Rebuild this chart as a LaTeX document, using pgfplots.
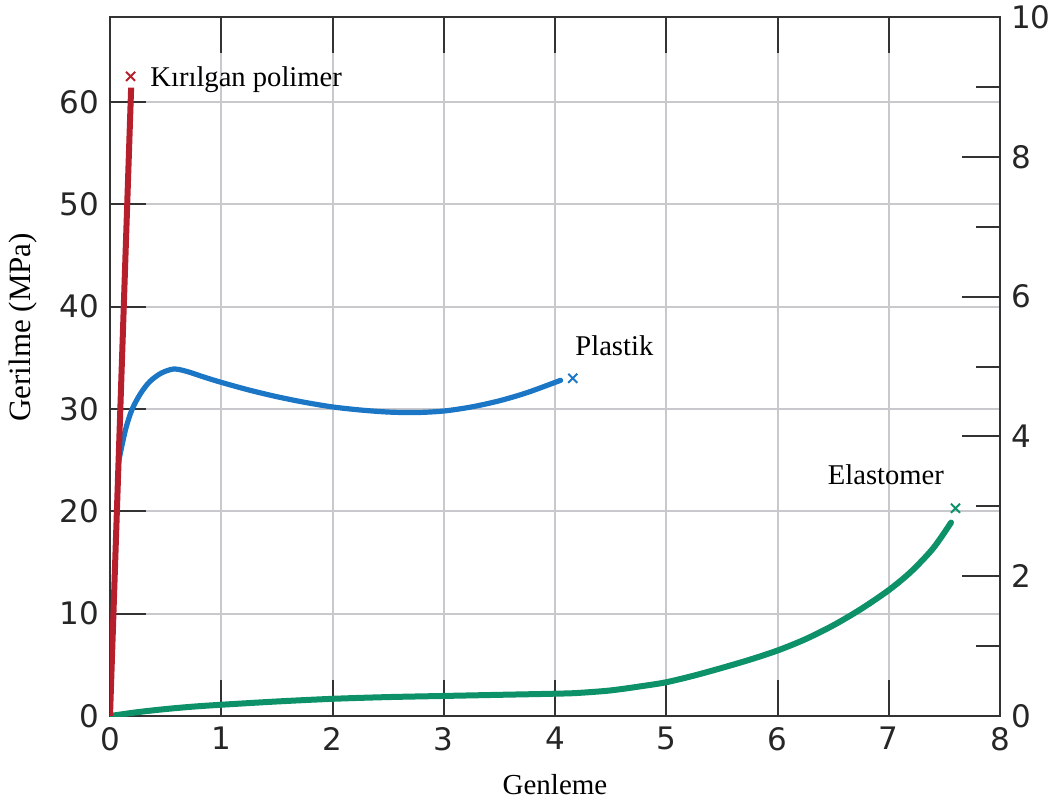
\documentclass[border=0pt]{standalone}
\usepackage{fontspec}
\setmainfont{Liberation Serif}
\newfontfamily\dejavu{DejaVu Sans}
\usepackage{pgfplots}
\pgfplotsset{compat=1.18}
\definecolor{cred}{HTML}{B5202C}
\definecolor{cblue}{HTML}{1B76C6}
\definecolor{cgreen}{HTML}{0C9168}
\definecolor{axdark}{HTML}{333333}
\definecolor{gridg}{HTML}{C9C9CD}
\begin{document}
\begin{tikzpicture}
\begin{axis}[
  width=445pt, height=349.5pt, scale only axis,
  xmin=0, xmax=8, ymin=0, ymax=68.3,
  xtick={0,1,...,8}, ytick={0,10,...,60},
  xtick pos=both, ytick pos=left,
  tick align=inside, major tick length=18pt,
  grid=major, grid style={color=gridg, line width=1pt},
  axis line style={color=axdark, line width=1pt},
  tick style={color=axdark, line width=1pt},
  /pgf/number format/assume math mode=true,
  ticklabel style={font=\dejavu\fontsize{15.5}{18}\selectfont, text=black!85},
  xticklabel style={yshift=-2pt},
  yticklabel style={xshift=-2pt},
  xlabel={Genleme},
  xlabel style={at={(rel axis cs:0.5,-0.1116)}, anchor=base, font=\fontsize{14.5}{17}\selectfont},
  ylabel={Gerilme (MPa)},
  ylabel style={at={(rel axis cs:-0.0978,0.556)}, anchor=center, font=\fontsize{15.5}{18}\selectfont},
]
\addplot[color=cgreen, line width=3pt, smooth, line cap=round] coordinates {
(0,0) (0.25,0.38) (0.5,0.68) (0.75,0.92) (1,1.1) (1.5,1.42) (2,1.68) (2.5,1.85) (3,1.96) (3.5,2.07) (4,2.18) (4.2,2.25) (4.5,2.5) (4.8,2.95) (5,3.3) (5.25,3.95) (5.5,4.7) (5.75,5.5) (6,6.4) (6.25,7.5) (6.5,8.85) (6.75,10.45) (7,12.3) (7.2,14.1) (7.4,16.4) (7.56,18.9)
};
\addplot[color=cblue, line width=2.6pt, smooth, line cap=round] coordinates {
(0.08,25.0) (0.14,28.0) (0.20,30.0) (0.28,31.6) (0.36,32.7) (0.46,33.5) (0.57,33.9) (0.68,33.7) (0.85,33.1) (1.0,32.6) (1.25,31.85) (1.5,31.2) (1.75,30.65) (2.0,30.2) (2.25,29.9) (2.5,29.7) (2.75,29.65) (3.0,29.8) (3.25,30.2) (3.5,30.8) (3.75,31.6) (4.05,32.8)
};
\addplot[color=cred, line width=3pt] coordinates {(0,0) (0.19,61.4)};
\addplot[only marks, mark=x, mark size=3.2pt, color=cred, mark options={line width=1pt}] coordinates {(0.185,62.5)};
\addplot[only marks, mark=x, mark size=3.2pt, color=cblue, mark options={line width=1pt}] coordinates {(4.16,33.0)};
\addplot[only marks, mark=x, mark size=3.2pt, color=cgreen, mark options={line width=1pt}] coordinates {(7.6,20.3)};
\node[anchor=base west, inner sep=0pt, font=\fontsize{14.3}{17}\selectfont] at (axis cs:0.36,61.5) {Kırılgan polimer};
\node[anchor=base west, inner sep=0pt, font=\fontsize{14.3}{17}\selectfont] at (axis cs:4.18,35.2) {Plastik};
\node[anchor=base west, inner sep=0pt, font=\fontsize{14.3}{17}\selectfont] at (axis cs:6.45,22.6) {Elastomer};
\end{axis}
\begin{axis}[
  width=445pt, height=349.5pt, scale only axis,
  xmin=0, xmax=8, ymin=0, ymax=10,
  hide x axis, axis y line*=right,
  ytick={0,2,...,10}, minor ytick={1,3,...,9},
  tick align=inside, major tick length=19pt, minor tick length=12pt,
  axis line style={color=axdark, line width=1pt},
  tick style={color=axdark, line width=1pt},
  /pgf/number format/assume math mode=true,
  ticklabel style={font=\dejavu\fontsize{15.5}{18}\selectfont, text=black!85},
  yticklabel style={xshift=2pt},
]
\end{axis}
\pgfresetboundingbox
\path (-55pt,-44.5pt) rectangle (477pt,358pt);
\end{tikzpicture}
\end{document}
